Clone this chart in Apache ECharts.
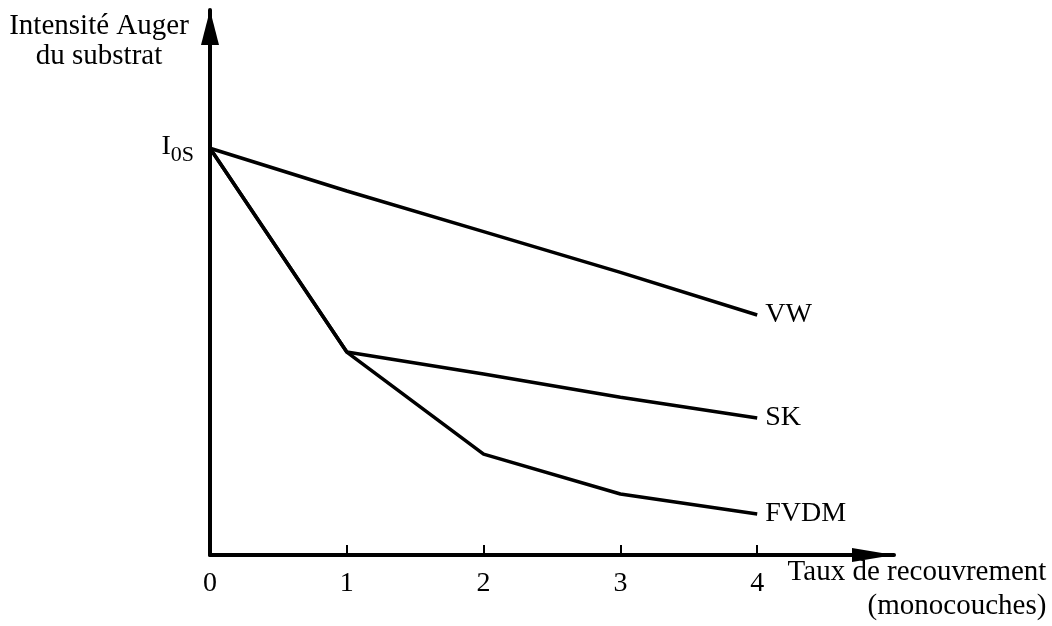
<!DOCTYPE html>
<html>
<head>
<meta charset="utf-8">
<script src="https://cdn.jsdelivr.net/npm/echarts@6/dist/echarts.min.js"></script>
<style>html,body{margin:0;padding:0;background:#fff}#c{width:1052px;height:626px}</style>
</head>
<body>
<div id="c"></div>
<script>
const coverage = [0, 1, 2, 3, 4];
const xTicks = [0, 1, 2, 3, 4];
const vw = [100, 89.5, 79.5, 69.5, 59];
const sk = [100, 49.9, 44.5, 38.8, 33.7];
const fvdm = [100, 49.9, 24.8, 15.0, 10.1];
const seriesNames = ['VW', 'SK', 'FVDM'];
const yTickValue = [100];
const yTitle = ['Intensité Auger', 'du substrat'];
const xTitle = ['Taux de recouvrement', '(monocouches)'];

const FONT = 'Liberation Serif';
const chart = echarts.init(document.getElementById('c'), null, {renderer: 'canvas'});

function pairs(vals) { return coverage.map((x, i) => [x, vals[i]]); }

function lineSeries(name, vals) {
  return {
    name: name, type: 'line', data: pairs(vals), symbol: 'none',
    lineStyle: {color: '#000', width: 3.5}, itemStyle: {color: '#000'},
    endLabel: {show: true, formatter: name, distance: 8, color: '#000',
      fontFamily: FONT, fontSize: 28},
    z: 3
  };
}

chart.setOption({
  animation: false,
  backgroundColor: '#fff',
  grid: {left: 210, right: 158, top: 10, bottom: 71, containLabel: false},
  xAxis: {
    type: 'value', min: 0, max: 5, interval: 1,
    axisLine: {show: true, onZero: false, symbol: ['none', 'triangle'], symbolSize: [14, 42],
      symbolOffset: [0, -21], lineStyle: {color: '#000', width: 4}},
    axisTick: {show: true, inside: true, length: 10, customValues: xTicks,
      lineStyle: {color: '#000', width: 2}},
    axisLabel: {customValues: xTicks, margin: 15, color: '#000', fontFamily: FONT, fontSize: 28},
    splitLine: {show: false}
  },
  yAxis: {
    type: 'value', min: 0, max: 134, interval: 10,
    axisLine: {show: true, onZero: false, symbol: ['none', 'triangle'], symbolSize: [18, 35],
      symbolOffset: [0, -17.5], lineStyle: {color: '#000', width: 4}},
    axisTick: {show: false},
    axisLabel: {customValues: yTickValue, margin: 16, padding: [14, 0, 0, 0],
      formatter: function () { return '{i|I}{s|0S}'; },
      rich: {
        i: {fontFamily: FONT, fontSize: 28, color: '#000', lineHeight: 28, padding: [0, 0, 18, 0]},
        s: {fontFamily: FONT, fontSize: 22, color: '#000', lineHeight: 22}
      }},
    splitLine: {show: false}
  },
  graphic: [
    {type: 'text', x: 99, y: 11, style: {text: yTitle.join('\n'), fill: '#000',
      font: '29px "' + FONT + '"', textAlign: 'center', textVerticalAlign: 'top', lineHeight: 30}},
    {type: 'text', x: 917, y: 572, style: {text: xTitle[0], fill: '#000',
      font: '29px "' + FONT + '"', textAlign: 'center', textVerticalAlign: 'middle'}},
    {type: 'text', x: 957, y: 606, style: {text: xTitle[1], fill: '#000',
      font: '29px "' + FONT + '"', textAlign: 'center', textVerticalAlign: 'middle'}}
  ],
  series: [
    lineSeries(seriesNames[0], vw),
    lineSeries(seriesNames[1], sk),
    lineSeries(seriesNames[2], fvdm)
  ]
});
</script>
</body>
</html>
